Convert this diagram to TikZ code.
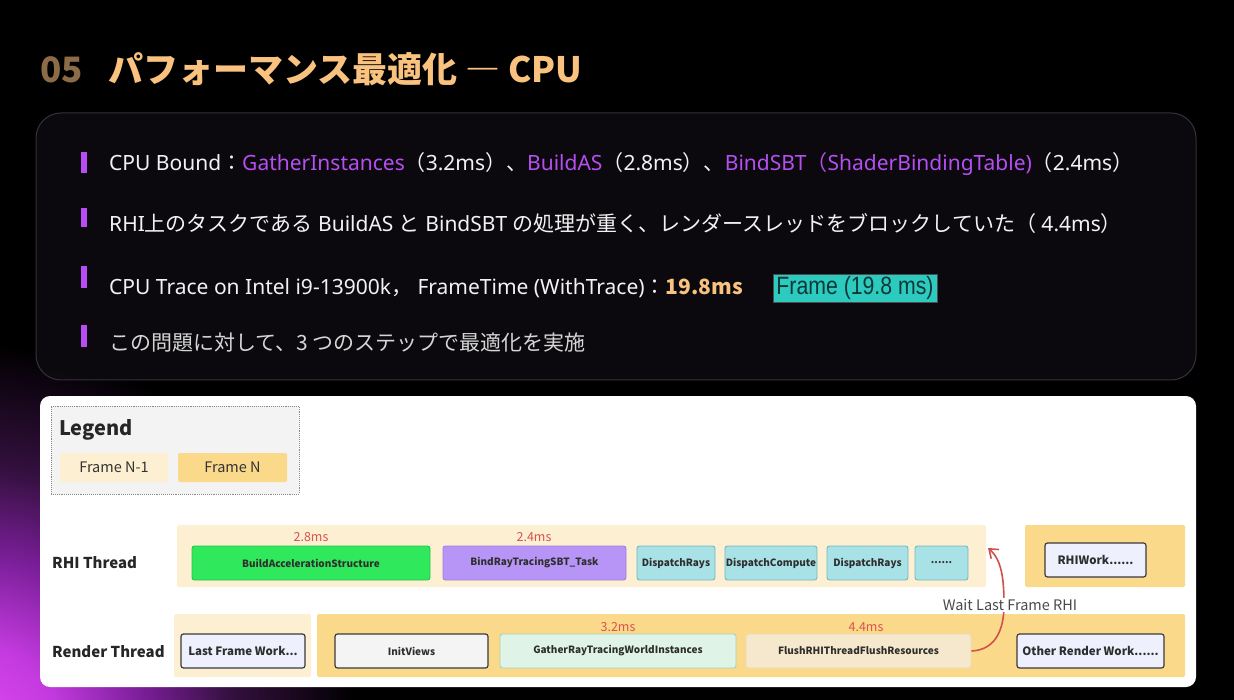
\documentclass[tikz,border=0pt]{standalone}
\usepackage{fontspec}
\setmainfont{Noto Sans CJK JP}
\newfontfamily\cjk{Noto Sans CJK JP}
\newfontfamily\lat{Noto Sans}
\newfontfamily\narrow{Liberation Sans}
\usetikzlibrary{arrows.meta}
\definecolor{glowA}{HTML}{E24AF2}
\definecolor{glowB}{HTML}{C23ADE}
\definecolor{glowC}{HTML}{7A1E98}
\definecolor{glowD}{HTML}{33103E}
\definecolor{panelfill}{HTML}{0D0B0F}
\definecolor{panelline}{HTML}{34323A}
\definecolor{numcol}{HTML}{8C6B47}
\definecolor{titlecol}{HTML}{F9C27F}
\definecolor{hl}{HTML}{B64EF2}
\definecolor{bar}{HTML}{B94DF5}
\definecolor{txt}{HTML}{F2F2F2}
\definecolor{txtdim}{HTML}{D6D6D6}
\definecolor{tealbox}{HTML}{2DCAC0}
\definecolor{tealtxt}{HTML}{0D3836}
\definecolor{legfill}{HTML}{F3F3F3}
\definecolor{legline}{HTML}{8A8A8A}
\definecolor{fnm}{HTML}{FDF0D2}
\definecolor{fn}{HTML}{FBD98B}
\definecolor{green}{HTML}{30E85B}
\definecolor{greenline}{HTML}{23C44C}
\definecolor{purp}{HTML}{B795F6}
\definecolor{purpline}{HTML}{9F80E2}
\definecolor{teal}{HTML}{A8E1E6}
\definecolor{tealline}{HTML}{73B8BE}
\definecolor{lblue}{HTML}{EEF1FD}
\definecolor{gray1}{HTML}{F4F4F4}
\definecolor{lgreen}{HTML}{DFF4E6}
\definecolor{lgreenline}{HTML}{A9CFB5}
\definecolor{beige}{HTML}{F6E8CC}
\definecolor{beigeline}{HTML}{EAD9B8}
\definecolor{dark}{HTML}{3A3A3A}
\definecolor{tasktxt}{HTML}{2E2E2E}
\definecolor{msred}{HTML}{D9534F}
\definecolor{arrowred}{HTML}{D0514B}
\definecolor{waittxt}{HTML}{4A4A4A}
\pgfdeclareradialshading{glow}{\pgfpoint{0bp}{0bp}}{color(0bp)=(glowA); color(5bp)=(glowB); color(10bp)=(glowC); color(15bp)=(glowD); color(22bp)=(black); color(50bp)=(black)}
\begin{document}
\begin{tikzpicture}[x=1pt,y=-1pt,
  bandnm/.style={fill=fnm, inner sep=0, rounded corners=1.5},
  bandn/.style={fill=fn, inner sep=0, rounded corners=1.5},
  task/.style={rounded corners=2.5, line width=0.9, inner sep=0, minimum height=34,
    font=\cjk\bfseries\fontsize{10}{12}\selectfont, text=tasktxt},
  ms/.style={text=msred, font=\cjk\fontsize{12.5}{14}\selectfont, inner sep=0},
  thread/.style={anchor=west, inner sep=0, text=black!85, font=\cjk\bfseries\fontsize{15}{18}\selectfont},
  legbox/.style={inner sep=0, rounded corners=1.5, minimum height=29, text=black!80,
    font=\cjk\fontsize{14.5}{17}\selectfont},
  bulletbar/.style={fill=bar, inner sep=0, minimum width=6},
  line/.style={anchor=base west, inner sep=0, text=txt, font=\lat\fontsize{21}{25}\selectfont}
]
\useasboundingbox (0,0) rectangle (1234,700);
\fill[black] (0,0) rectangle (1234,700);
\begin{scope}
  \clip (0,0) rectangle (1234,700);
  \shade[shading=glow] (-30,730) circle (440);
\end{scope}

% title
\node[anchor=base west, inner sep=0, text=numcol, font=\cjk\bfseries\fontsize{35}{40}\selectfont] (num) at (40,83) {05};
\node[anchor=base west, inner sep=0, text=titlecol, font=\cjk\bfseries\fontsize{35}{40}\selectfont] (title) at (108,83) {パフォーマンス最適化 ― CPU};

% top panel
\path[draw=panelline, fill=panelfill, fill opacity=0.88, rounded corners=25, line width=1] (36,113) rectangle (1196,380);

% bullets
\node[bulletbar, minimum height=21] (b1) at (84,162.5) {};
\node[bulletbar, minimum height=19] (b2) at (84,217.5) {};
\node[bulletbar, minimum height=22] (b3) at (84,277) {};
\node[bulletbar, minimum height=22] (b4) at (84,336) {};

\node[line] (l1) at (109,171) {CPU Bound{\cjk ：}\textcolor{hl}{GatherInstances}{\cjk （}3.2ms{\cjk ）、}\textcolor{hl}{BuildAS}{\cjk （}2.8ms{\cjk ）、}\textcolor{hl}{BindSBT{\cjk （}ShaderBindingTable)}{\cjk （}2.4ms{\cjk ）}};
\node[line] (l2) at (109,232) {RHI{\cjk 上のタスクである} BuildAS {\cjk と} BindSBT {\cjk の処理が重く、レンダースレッドをブロックしていた（} 4.4ms{\cjk ）}};
\node[line] (l3) at (109,294.5) {CPU Trace on Intel i9-13900k{\cjk ，} FrameTime (WithTrace){\cjk ：}\textcolor{titlecol}{\cjk\bfseries 19.8ms}};
\node[draw=black!70, line width=0.5, fill=tealbox, inner sep=0, minimum width=164, minimum height=28,
  text=tealtxt, font=\narrow\fontsize{25}{28}\selectfont] (fbox) at (855,288) {\scalebox{0.85}[1]{Frame (19.8 ms)}};
\node[line, text=txtdim, font=\cjk\fontsize{21}{25}\selectfont] (l4) at (109,351) {この問題に対して、3 つのステップで最適化を実施};

% white panel
\fill[white, rounded corners=10] (40,396) rectangle (1196,687);

% legend
\node[draw=legline, densely dotted, line width=0.9, fill=legfill, inner sep=0, minimum width=248, minimum height=88] (legend) at (175,450) {};
\node[anchor=west, inner sep=0, text=black!85, font=\cjk\bfseries\fontsize{20}{24}\selectfont] (legtitle) at (59,430) {Legend};
\node[legbox, fill=fnm, minimum width=108] (legnm) at (114,467.5) {Frame N-1};
\node[legbox, fill=fn, minimum width=109] (legn) at (232.5,467.5) {Frame N};

% thread labels
\node[thread] (rhilabel) at (52,563) {RHI Thread};
\node[thread] (rtlabel) at (52,652) {Render Thread};

% bands
\node[bandnm, minimum width=809, minimum height=62] (rhiprev) at (581.5,556) {};
\node[bandn, minimum width=160, minimum height=62] (rhicur) at (1105,556) {};
\node[bandnm, minimum width=137, minimum height=63] (rtprev) at (242.5,645.5) {};
\node[bandn, minimum width=868, minimum height=63] (rtcur) at (751,645.5) {};

% RHI tasks
\node[task, fill=green, draw=greenline, minimum width=238] (bas) at (311,563) {BuildAccelerationStructure};
\node[task, fill=purp, draw=purpline, minimum width=183] (sbt) at (534.5,563) {BindRayTracingSBT\_Task};
\node[task, fill=teal, draw=tealline, minimum width=78] (dr1) at (676,563) {DispatchRays};
\node[task, fill=teal, draw=tealline, minimum width=92] (dc) at (771,563) {DispatchCompute};
\node[task, fill=teal, draw=tealline, minimum width=81] (dr2) at (867.5,563) {DispatchRays};
\node[task, fill=teal, draw=tealline, minimum width=53] (more) at (941.5,563) {......};
\node[task, fill=lblue, draw=dark, line width=1.2, minimum width=101, font=\cjk\bfseries\fontsize{11.5}{13}\selectfont] (rhiwork) at (1095.5,560) {RHIWork......};

\node[ms] (ms28) at (311,537) {2.8ms};
\node[ms] (ms24) at (534,537) {2.4ms};

% Render tasks
\node[task, fill=lblue, draw=dark, line width=1.2, minimum width=124, font=\cjk\bfseries\fontsize{11.5}{13}\selectfont] (lfw) at (243,651) {Last Frame Work...};
\node[task, fill=gray1, draw=dark, line width=1.2, minimum width=153] (initv) at (411.5,651) {InitViews};
\node[task, fill=lgreen, draw=lgreenline, minimum width=236] (gather) at (618,651) {GatherRayTracingWorldInstances};
\node[task, fill=beige, draw=beigeline, minimum width=225] (flush) at (858.5,651) {FlushRHIThreadFlushResources};
\node[task, fill=lblue, draw=dark, line width=1.2, minimum width=147, font=\cjk\bfseries\fontsize{11.5}{13}\selectfont] (other) at (1090.5,651) {Other Render Work......};

\node[ms] (ms32) at (618,627) {3.2ms};
\node[ms] (ms44) at (866,627) {4.4ms};

% wait arrow
\coordinate (tip) at (988,548);
\draw[arrowred, line width=1.6, -{Straight Barb[length=8pt, width=12pt]}]
  (flush.east) .. controls (994,650) and (1004,632) .. (1004,605)
  .. controls (1004,580) and (1002,560) .. (tip);
\node[fill=white, inner sep=1, text=waittxt, font=\cjk\fontsize{14.5}{17}\selectfont] (wait) at (1010,605) {Wait Last Frame RHI};
\end{tikzpicture}
\end{document}
